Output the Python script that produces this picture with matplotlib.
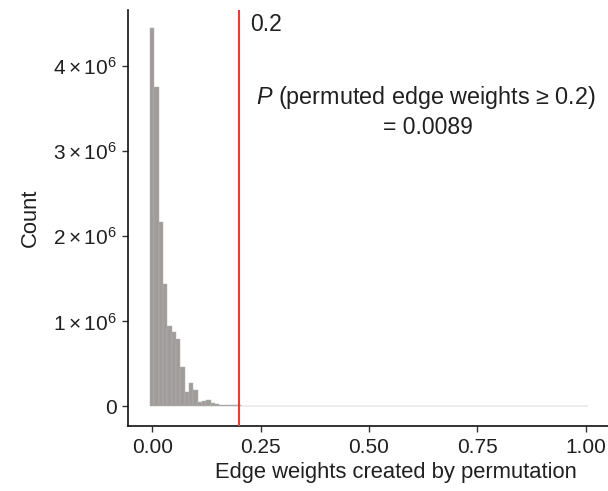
import matplotlib
matplotlib.use("Agg")
import matplotlib.pyplot as plt
import numpy as np

plt.rcParams['font.family'] = ['Liberation Sans', 'DejaVu Sans']
plt.rcParams['mathtext.fontset'] = 'custom'
plt.rcParams['mathtext.rm'] = 'Liberation Sans'
plt.rcParams['mathtext.it'] = 'Liberation Sans:italic'

# Histogram bin centres (width 0.01) and counts
bin_width = 0.01
bin_centers = [round(i * 0.01, 2) for i in range(101)]
counts = [
    4450000, 3760000, 2170000, 1440000, 950000, 880000, 790000, 460000, 170000, 280000,
    190000, 56000, 65000, 76000, 45000, 26000, 14000, 14000, 21000, 21000,
    14000, 6000, 5000, 3000, 2500, 5500, 6000, 5500, 5000, 2500,
    2000, 4000, 4500, 3000, 1500, 1500, 1200, 1200, 1000, 1500,
    4000, 4500, 2000, 1000, 900, 900, 800, 800, 900, 800,
    1500, 3000, 2500, 700, 700, 600, 700, 600, 600, 700,
    600, 700, 4500, 5000, 4000, 600, 500, 500, 500, 500,
    500, 500, 400, 500, 500, 400, 500, 400, 400, 500,
    400, 400, 400, 400, 400, 400, 400, 400, 400, 400,
    400, 400, 400, 400, 400, 400, 400, 400, 400, 2000,
    2500,
]
threshold = 0.2
p_text = "0.0089"
x_ticks = [0.0, 0.25, 0.5, 0.75, 1.0]
x_tick_labels = ["0.00", "0.25", "0.50", "0.75", "1.00"]
y_ticks = [0, 1e6, 2e6, 3e6, 4e6]
y_tick_labels = ["0", r"$1\times10^{6}$", r"$2\times10^{6}$", r"$3\times10^{6}$", r"$4\times10^{6}$"]

text_color = "#202020"

fig = plt.figure(figsize=(6.08, 4.91), dpi=100)
ax = fig.add_axes([0.2105, 0.133, 0.7895, 0.8466])

ax.bar(bin_centers, counts, width=bin_width, color="#a09c9b", edgecolor="#b4b1b0",
       linewidth=0.35, align="center", zorder=2)
ax.axvline(threshold, color="#ee3b2c", lw=1.5, zorder=3)

ax.set_xlim(-0.0558, 1.0518)
ax.set_ylim(-0.2256e6, 4.659e6)

ax.set_xticks(x_ticks)
ax.set_xticklabels(x_tick_labels)
ax.set_yticks(y_ticks)
ax.set_yticklabels(y_tick_labels)

for side in ["top", "right"]:
    ax.spines[side].set_visible(False)
for side in ["left", "bottom"]:
    ax.spines[side].set_linewidth(1.2)
    ax.spines[side].set_color("#111111")
ax.tick_params(axis="both", length=4, width=1.0, color="#333333", labelsize=15,
               labelcolor=text_color)
ax.tick_params(axis="x", pad=5)
ax.tick_params(axis="y", pad=4)

ax.set_xlabel("Edge weights created by permutation", fontsize=15.8, color=text_color)
ax.xaxis.set_label_coords(0.558, -0.088)
ax.set_ylabel("Count", fontsize=15.8, color=text_color, labelpad=9)

ax.text(0.225, 4.49e6, "0.2", fontsize=16.5, ha="left", va="center", color=text_color)
ax.text(0.631, 3.63e6, r"$\mathit{P}$ (permuted edge weights ≥ 0.2)", fontsize=16.8,
        ha="center", va="center", color=text_color)
ax.text(0.637, 3.28e6, "= " + p_text, fontsize=16.5, ha="center", va="center", color=text_color)

fig.savefig("out.png", dpi=100)
